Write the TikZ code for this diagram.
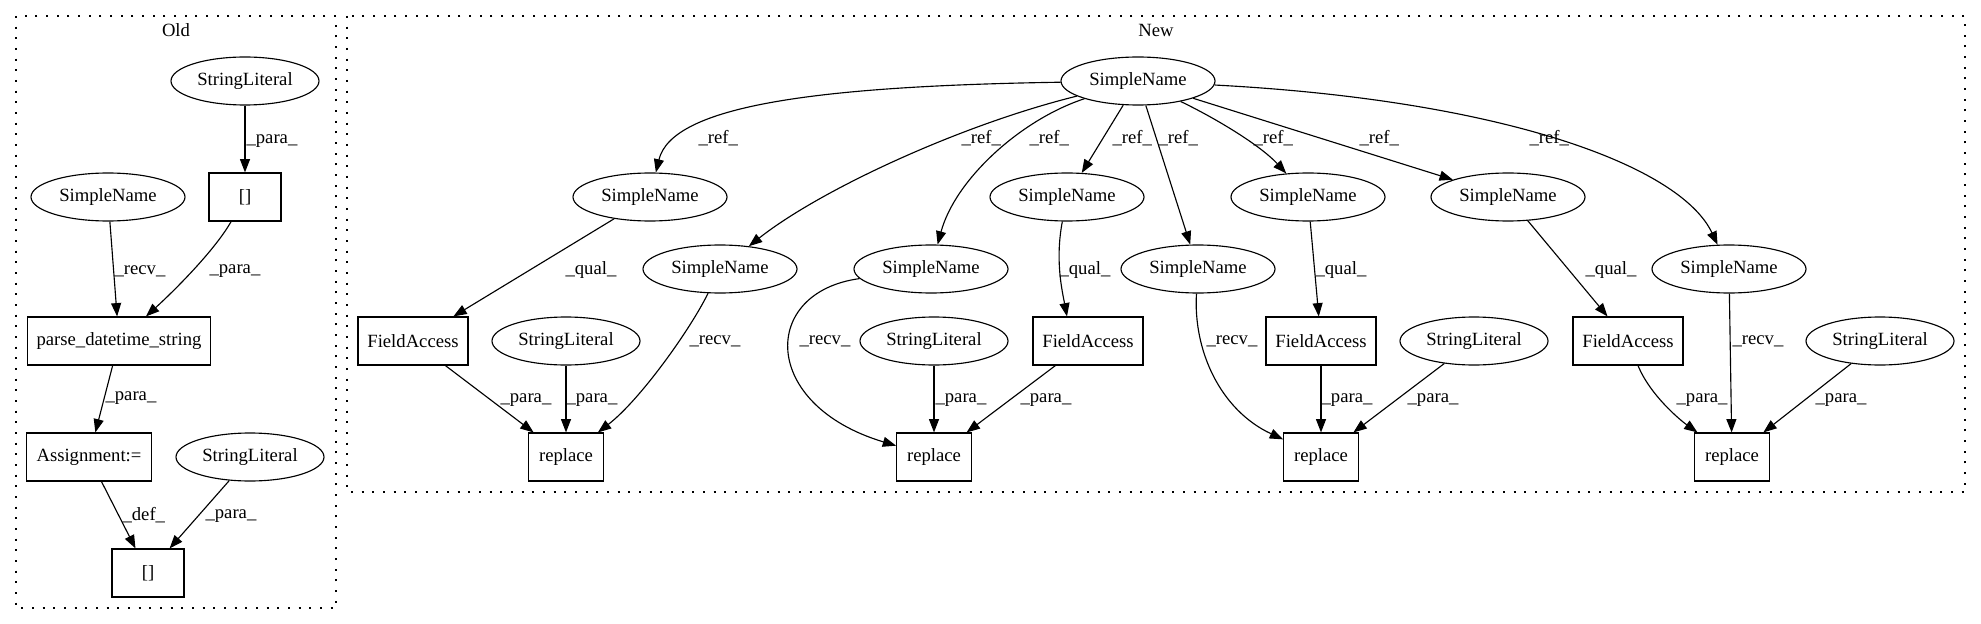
\documentclass[tikz,border=0pt]{standalone}
\usepackage{fontspec}
\setmainfont{Liberation Serif}
\usetikzlibrary{shapes.geometric,arrows.meta}
\tikzstyle{sname} = [ellipse, draw, minimum width=115.5pt, minimum height=36pt, inner sep=0pt]
\tikzstyle{slit} = [ellipse, draw, minimum width=111pt, minimum height=36pt, inner sep=0pt]
\tikzstyle{op} = [rectangle, draw, minimum height=36pt, inner sep=0pt]

\begin{document}
\begin{tikzpicture}[x=0.75pt, y=-0.75pt, line width=0.85pt]
\tikzset{every node/.style={font=\fontsize{14}{16}\selectfont}}
\tikzset{arr/.style={-{Triangle[length=10pt,width=7.5pt]}}}
\tikzset{lbl/.style={anchor=west, inner sep=0pt}}
\tikzset{cluster/.style={line width=1pt, dash pattern=on 1.5pt off 6.5pt}}

\useasboundingbox (0,0) rectangle (1981,624);

% clusters
\draw[cluster] (16,16) rectangle (336,608);
\draw[cluster] (347,16) rectangle (1965,492);
\node (oldlbl) at (176,30) {Old};
\node (newlbl) at (1156,30) {New};

% old
\node[slit] (osl1) at (245,81) {StringLiteral};
\node[sname] (osn) at (108,197) {SimpleName};
\node[op, minimum width=54pt] (oarr1) at (245,197) {[]};
\node[op, minimum width=137pt] (parse) at (119,341) {parse\_datetime\_string};
\node[op, minimum width=94pt] (assign) at (89,457) {Assignment:=};
\node[slit] (osl2) at (250,457) {StringLiteral};
\node[op, minimum width=54pt] (oarr2) at (148,573) {[]};

% new
\node[sname] (sn0) at (1138,81) {SimpleName};
\node[sname] (sn1) at (650,197) {SimpleName};
\node[sname] (sn2) at (720,269) {SimpleName};
\node[sname] (sn3) at (931,269) {SimpleName};
\node[sname] (sn4) at (1067,197) {SimpleName};
\node[sname] (sn5) at (1198,269) {SimpleName};
\node[sname] (sn6) at (1308,197) {SimpleName};
\node[sname] (sn7) at (1508,197) {SimpleName};
\node[sname] (sn8) at (1729,269) {SimpleName};
\node[op, minimum width=82.5pt] (fa1) at (413,341) {FieldAccess};
\node[slit] (sl1) at (566,341) {StringLiteral};
\node[slit] (sl2) at (934,341) {StringLiteral};
\node[op, minimum width=82.5pt] (fa2) at (1088,341) {FieldAccess};
\node[op, minimum width=82.5pt] (fa3) at (1321,341) {FieldAccess};
\node[slit] (sl3) at (1474,341) {StringLiteral};
\node[op, minimum width=82.5pt] (fa4) at (1628,341) {FieldAccess};
\node[slit] (sl4) at (1880,341) {StringLiteral};
\node[op, minimum width=56pt] (rep1) at (566,457) {replace};
\node[op, minimum width=56pt] (rep2) at (934,457) {replace};
\node[op, minimum width=56pt] (rep3) at (1321,457) {replace};
\node[op, minimum width=56pt] (rep4) at (1732,457) {replace};

\foreach \from/\to/\lab/\lx/\ly in {osl1/oarr1/para/246/141, osn/parse/recv/114/271,
  parse/assign/para/105/398, assign/oarr2/def/122/515, osl2/oarr2/para/205/516,
  sn0/sn4/ref/1112/138, sn0/sn5/ref/1158/138, sn0/sn7/ref/1359/138,
  sn1/fa1/qual/565/270, sl1/rep1/para/566/400, fa1/rep1/para/500/400,
  sl2/rep2/para/935/400, fa2/rep2/para/1020/400,
  sn6/fa3/qual/1315/270, fa3/rep3/para/1321/400, sl3/rep3/para/1407/400,
  sn7/fa4/qual/1585/270, sn8/rep4/recv/1732/341, sl4/rep4/para/1815/400}
{
	\draw[arr] (\from) -- (\to) node[lbl, at={(\lx,\ly)}] {\_\lab\_};
}

% bent ones
\draw[arr] (oarr1) .. controls (215,250) and (175,290) .. (parse) node[lbl, at={(209,271)}] {\_para\_};
\draw[arr] (sn0) .. controls (820,86) and (672,105) .. (sn1) node[lbl, at={(698,138)}] {\_ref\_};
\draw[arr] (sn0) .. controls (960,125) and (820,190) .. (sn2) node[lbl, at={(961,138)}] {\_ref\_};
\draw[arr] (sn0) .. controls (1020,120) and (955,180) .. (sn3) node[lbl, at={(1029,138)}] {\_ref\_};
\draw[arr] (sn0) .. controls (1215,118) and (1260,145) .. (sn6) node[lbl, at={(1253,138)}] {\_ref\_};
\draw[arr] (sn0) .. controls (1500,100) and (1680,165) .. (sn8) node[lbl, at={(1529,138)}] {\_ref\_};
\draw[arr] (sn2) .. controls (690,330) and (640,400) .. (rep1) node[lbl, at={(689,341)}] {\_recv\_};
\draw[arr] (sn3) .. controls (760,292) and (760,405) .. (rep2) node[lbl, at={(799,341)}] {\_recv\_};
\draw[arr] (sn4) .. controls (1055,260) and (1062,290) .. ([xshift=-15.75pt]fa2.north) node[lbl, at={(1059,270)}] {\_qual\_};
\draw[arr] (sn5) .. controls (1193,350) and (1220,410) .. (rep3) node[lbl, at={(1206,341)}] {\_recv\_};
\draw[arr] (fa4) .. controls (1650,395) and (1680,420) .. (rep4) node[lbl, at={(1676,400)}] {\_para\_};

\end{tikzpicture}
\end{document}
